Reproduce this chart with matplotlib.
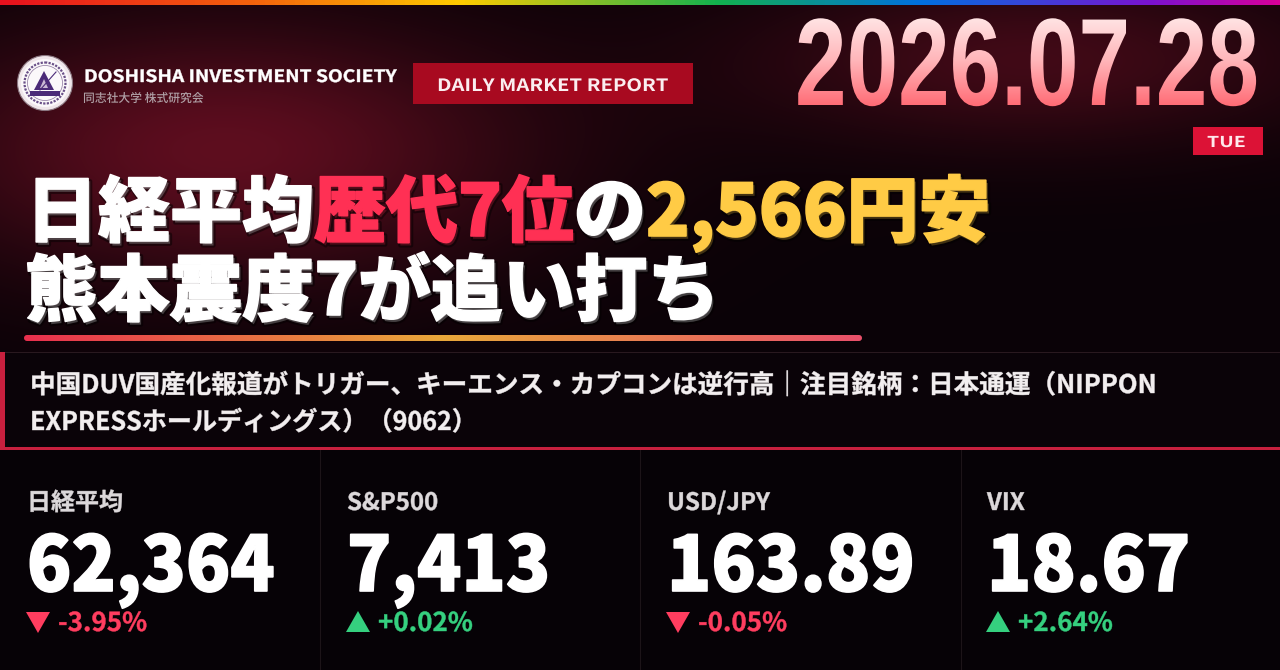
import numpy as np
import matplotlib
matplotlib.use("Agg")
import matplotlib.pyplot as plt
from matplotlib import patheffects as pe
from matplotlib.patches import Circle, Polygon, Rectangle, FancyBboxPatch
from matplotlib.colors import LinearSegmentedColormap
from matplotlib.transforms import Affine2D, Bbox

# ---- content ----
society = "DOSHISHA INVESTMENT SOCIETY"
society_jp = "同志社大学 株式研究会"
badge = "DAILY MARKET REPORT"
date_text = "2026.07.28"
weekday = "TUE"
head_1 = [("日経平均", "#ffffff"), ("歴代7位", "#ff3054"), ("の", "#ffffff"), ("2,566円安", "#ffcb45")]
head_2 = [("熊本震度7が追い打ち", "#ffffff")]
sub_1 = "中国DUV国産化報道がトリガー、キーエンス・カプコンは逆行高｜注目銘柄：日本通運（NIPPON"
sub_2 = "EXPRESSホールディングス）（9062）"
names = ["日経平均", "S&P500", "USD/JPY", "VIX"]
values = ["62,364", "7,413", "163.89", "18.67"]
changes = ["-3.95%", "+0.02%", "-0.05%", "+2.64%"]
is_up = [False, True, False, True]

JP = ["Noto Sans CJK JP", "DejaVu Sans"]
plt.rcParams["font.family"] = JP
W, H = 1280, 670
PX = 0.72


class Stretch(pe.AbstractPathEffect):
    """Scale the glyph outlines of a real text about its origin; optional emboldening and vertical colour ramp."""
    def __init__(self, sx=1.0, sy=1.0, bold=0.0, ramp=None, y_range=None):
        super().__init__()
        self.sx, self.sy, self.bold, self.ramp, self.y_range = sx, sy, bold, ramp, y_range

    def draw_path(self, renderer, gc, tpath, affine, rgbFace=None):
        m = affine.get_matrix()
        x0, y0 = m[0, 2], m[1, 2]
        t = affine + Affine2D().translate(-x0, -y0).scale(self.sx, self.sy).translate(x0, y0)
        if self.ramp is None:
            g = renderer.new_gc()
            g.copy_properties(gc)
            if self.bold:
                g.set_linewidth(self.bold)
                g.set_foreground(rgbFace)
            renderer.draw_path(g, tpath, t, rgbFace)
            g.restore()
            return
        fig_h = renderer.height
        top, bottom = self.y_range
        n = int(bottom - top)
        for i in range(n + 2):
            g = renderer.new_gc()
            g.copy_properties(gc)
            yy0 = fig_h - (top + i - 1)
            yy1 = fig_h - (top + i)
            g.set_clip_rectangle(Bbox([[0, yy1], [fig_h * 3, yy0]]))
            g.set_clip_path(None)
            renderer.draw_path(g, tpath, t, self.ramp(min(max(i / n, 0), 1)))
            g.restore()


fig = plt.figure(figsize=(W / 100, H / 100), dpi=100, facecolor="#060206")
ax = fig.add_axes([0, 0, 1, 1])
ax.set_xlim(0, W)
ax.set_ylim(H, 0)
ax.axis("off")

# background glows
yy, xx = np.mgrid[0:H, 0:W]
base = np.array([10, 2, 7], float)
g1 = np.exp(-(((xx - 225) / 300) ** 2 + ((yy - 150) / 125) ** 2))
g2 = np.exp(-(((xx - 1030) / 290) ** 2 + ((yy - 60) / 85) ** 2))
glow = np.clip(g1 * 0.95 + g2 * 0.62, 0, 1)[..., None]
img = base + glow * (np.array([98, 14, 32], float) - base)
img[450:] = np.array([6, 2, 6])
ax.imshow(img / 255, extent=(0, W, H, 0), aspect="auto", zorder=0, interpolation="bilinear")

# rainbow top bar
rainbow = LinearSegmentedColormap.from_list(
    "rb", [(0, "#e8101e"), (0.2, "#f4640c"), (0.36, "#ffcc00"), (0.56, "#12b24e"),
           (0.72, "#0070e0"), (0.9, "#7a12d0"), (1, "#d8009a")])
ax.imshow(np.linspace(0, 1, W)[None, :], cmap=rainbow, extent=(0, W, 5.5, 0), aspect="auto", zorder=1)
ax.set_xlim(0, W)
ax.set_ylim(H, 0)

# logo
ax.add_patch(Circle((45, 83), 27.5, fc="#efe6ea", ec="#8a7680", lw=0.8, zorder=3))
ax.add_patch(Circle((45, 83), 24, fc="#fbf8fa", ec="none", zorder=3))
ax.add_patch(Circle((45, 83), 20.5, fc="none", ec="#6a5088", lw=1.6, ls=(0, (1, 0.6)), zorder=4))
ax.add_patch(Circle((45, 83), 17.5, fc="#fbf8fa", ec="#8a749c", lw=0.5, zorder=4))
ax.add_patch(Polygon([[44, 71], [34, 90], [54, 90]], closed=True, fc="#4b2a78", ec="none", zorder=5))
ax.add_patch(Polygon([[44, 79], [40, 88], [48, 88]], closed=True, fc="#c9b8d4", ec="none", zorder=6))
ax.plot([40, 56], [90, 72], color="#4b2a78", lw=0.8, zorder=6)
ax.add_patch(Rectangle((30, 91), 30, 4.5, fc="#4b2a78", ec="none", zorder=6))


def put(x, y, s, px, color="#ffffff", weight="bold", sx=1.0, sy=1.0, bold=0.0, z=10):
    return ax.text(x, y, s, fontsize=px * PX, color=color, fontweight=weight, family=JP,
                   ha="left", va="baseline", zorder=z, path_effects=[Stretch(sx, sy, bold)])


put(84, 82, society, 17, "#ffffff", "bold", sx=1.13, bold=0.3)
put(83, 102, society_jp, 11.8, "#b0a0a6", "medium")

ax.add_patch(Rectangle((413, 63), 280, 41, fc="#a80a20", ec="none", zorder=3))
put(437, 91, badge, 17, "#fbeef0", "bold", sx=1.19)

# date
ramp = LinearSegmentedColormap.from_list("dt", ["#ffe6e6", "#ffb4b8", "#ff6a74"])
ax.text(795, 105, date_text, fontsize=90 * PX, fontweight="bold", family=["Liberation Sans", "DejaVu Sans"],
        color="#ff9aa0", ha="left", va="baseline", zorder=10,
        path_effects=[Stretch(1.03, 1.38, ramp=ramp, y_range=(16, 107))])

ax.add_patch(Rectangle((1193, 127), 70, 28, fc="#dc1236", ec="none", zorder=3))
put(1207, 147, weekday, 15, "#ffe8ec", "bold", sx=1.3)


def headline(x, y, parts, px, bold=1.1):
    rend = fig.canvas.get_renderer()
    for s, c in parts:
        t = ax.text(x, y, s, fontsize=px * PX, color=c, fontweight="black", family=JP,
                    ha="left", va="baseline", zorder=10,
                    path_effects=[pe.Stroke(linewidth=3, foreground="#000000", alpha=0.45, offset=(1.5, -2)),
                                  Stretch(1.0, 1.0, bold)])
        x += t.get_window_extent(rend).width


headline(26, 236, head_1, 72)
headline(25, 315, head_2, 72.3)

# underline
ul = LinearSegmentedColormap.from_list("ul", ["#e8304e", "#e9a83a", "#e8506a"])
im = ax.imshow(np.linspace(0, 1, 838)[None, :], cmap=ul, extent=(24, 862, 341, 335), aspect="auto", zorder=6)
clip = FancyBboxPatch((24, 335), 838, 6, boxstyle="round,pad=0,rounding_size=3", transform=ax.transData, fc="none", ec="none")
ax.add_patch(clip)
im.set_clip_path(clip)
ax.set_xlim(0, W)
ax.set_ylim(H, 0)

# subtitle band
ax.add_patch(Rectangle((0, 352), W, 96, fc="#0a0308", ec="none", zorder=2))
ax.plot([0, W], [351.5, 351.5], color="#2a1a20", lw=0.7, zorder=3)
ax.add_patch(Rectangle((0, 352), 5, 97, fc="#c8203e", ec="none", zorder=4))
ax.add_patch(Rectangle((0, 447), W, 3, fc="#c8203e", ec="none", zorder=4))
put(30, 393, sub_1, 25.6, "#f2eeef", "bold", bold=0.3)
put(30, 430, sub_2, 25.6, "#f2eeef", "bold", sx=0.98, bold=0.3)

# indicator cards
card_x = [27, 347, 667, 987]
for x in [320, 640, 961]:
    ax.plot([x, x], [450, H], color="#1c1418", lw=0.8, zorder=3)
for x, n, v, c, up in zip(card_x, names, values, changes, is_up):
    put(x, 510, n, 24, "#dcd8da", "bold", bold=0.3)
    put(x, 591, v, 76, "#ffffff", "black", sx=0.96, bold=1.2)
    col = "#35d07f" if up else "#ff3d5f"
    if up:
        ax.add_patch(Polygon([[x - 1, 632], [x + 23, 632], [x + 11, 611]], closed=True, fc=col, ec="none", zorder=9))
    else:
        ax.add_patch(Polygon([[x - 1, 612], [x + 23, 612], [x + 11, 633]], closed=True, fc=col, ec="none", zorder=9))
    put(x + 31, 631, c, 26, col, "bold", bold=0.3)

fig.savefig("out.png", dpi=100, facecolor=fig.get_facecolor())
